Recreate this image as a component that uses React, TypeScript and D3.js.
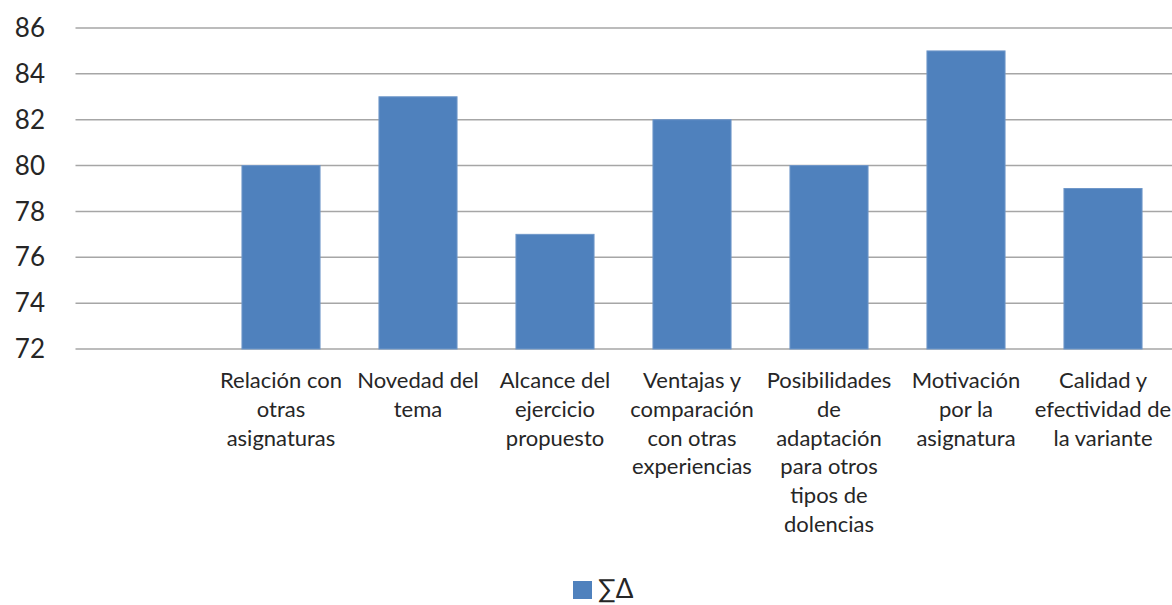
import React, { useRef, useEffect } from 'react';
import * as d3 from 'd3';

const categories = [
  '',
  'Relación con\notras\nasignaturas',
  'Novedad del\ntema',
  'Alcance del\nejercicio\npropuesto',
  'Ventajas y\ncomparación\ncon otras\nexperiencias',
  'Posibilidades\nde\nadaptación\npara otros\ntipos de\ndolencias',
  'Motivación\npor la\nasignatura',
  'Calidad y\nefectividad de\nla variante',
];
const values: (number | null)[] = [null, 80, 83, 77, 82, 80, 85, 79];
const yTicks = [72, 74, 76, 78, 80, 82, 84, 86];
const seriesName = '∑Δ';

const App = () => {
  const svgRef = useRef<SVGSVGElement>(null);

  useEffect(() => {
    const svg = d3.select(svgRef.current);
    svg.selectAll('*').remove();

    const width = 1172;
    const left = 75.5;
    const right = 1171.5;
    const top = 28;
    const bottom = 349;
    const font = "Lato, 'Open Sans', sans-serif";
    const textColor = '#262626';

    const x = d3.scaleBand<string>()
      .domain(categories)
      .range([left, right])
      .paddingInner(0.43)
      .paddingOuter(0.215);

    const y = d3.scaleLinear()
      .domain([72, 86])
      .range([bottom, top]);

    // grid
    svg.append('g')
      .selectAll('line')
      .data(yTicks)
      .enter()
      .append('line')
      .attr('x1', left)
      .attr('x2', width)
      .attr('y1', d => y(d))
      .attr('y2', d => y(d))
      .attr('stroke', '#a6a6a6')
      .attr('stroke-width', 1.5);

    // y tick labels
    svg.append('g')
      .selectAll('text')
      .data(yTicks)
      .enter()
      .append('text')
      .attr('x', 45)
      .attr('y', d => y(d))
      .attr('dy', '0.35em')
      .attr('text-anchor', 'end')
      .style('font-family', font)
      .style('font-size', '26px')
      .style('fill', textColor)
      .text(d => d);

    // bars
    const data = categories.map((c, i) => ({ c, v: values[i] }));
    svg.append('g')
      .selectAll('rect')
      .data(data.filter(d => d.v !== null))
      .enter()
      .append('rect')
      .attr('x', d => x(d.c)!)
      .attr('width', x.bandwidth())
      .attr('y', d => y(d.v as number))
      .attr('height', d => y(72) - y(d.v as number))
      .attr('fill', '#4f81bd')
      .attr('stroke', '#6f97c9')
      .attr('stroke-width', 1);

    // category labels
    const labels = svg.append('g')
      .selectAll('text')
      .data(categories)
      .enter()
      .append('text')
      .attr('text-anchor', 'middle')
      .style('font-family', font)
      .style('font-size', '22px')
      .style('fill', textColor);

    labels.each(function (d) {
      const t = d3.select(this);
      const cx = x(d)! + x.bandwidth() / 2;
      d.split('\n').forEach((line, i) => {
        t.append('tspan')
          .attr('x', cx)
          .attr('y', 388 + i * 28.8)
          .text(line);
      });
    });

    // legend
    const legend = svg.append('g');
    legend.append('rect')
      .attr('x', 573)
      .attr('y', 581)
      .attr('width', 19)
      .attr('height', 18)
      .attr('fill', '#4f81bd');
    legend.append('text')
      .attr('x', 598)
      .attr('y', 598)
      .style('font-family', font)
      .style('font-size', '26px')
      .style('fill', textColor)
      .text(seriesName);
  }, []);

  return (
    <svg
      ref={svgRef}
      width={1172}
      height={605}
      style={{ position: 'absolute', left: 0, top: 0, background: '#fff' }}
    ></svg>
  );
};

export default App;
